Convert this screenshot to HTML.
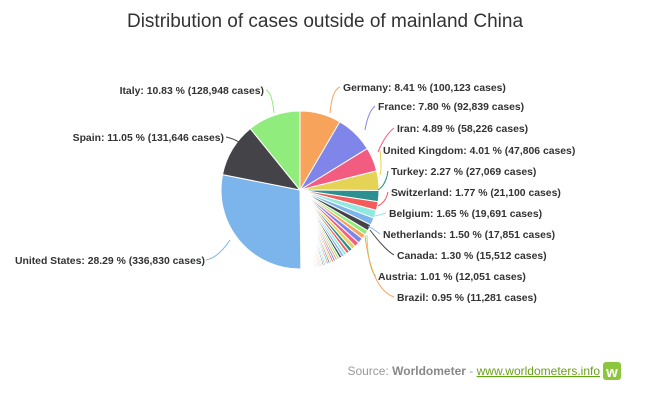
<!DOCTYPE html>
<html><head><meta charset="utf-8"><style>
body{margin:0;background:#fff;width:650px;height:402px;overflow:hidden}
svg{display:block}
text{font-family:"Liberation Sans",sans-serif}
.l{font-size:10.4px;font-weight:bold;fill:#333}
</style></head><body>
<svg id="s" width="650" height="402" xmlns="http://www.w3.org/2000/svg">
<text x="325" y="27" text-anchor="middle" style="font-size:19px;fill:#333">Distribution of cases outside of mainland China</text>
<g id="pie"></g>
<g fill="none" stroke-width="1">
<path d="M266,90 Q272,92 274,113" stroke="#90ed7d"/>
<path d="M340,87 Q332,90 330,113" stroke="#f7a35c"/>
<path d="M375,106 Q368,112 365,130" stroke="#8085e9"/>
<path d="M394,128 Q385,135 378,152" stroke="#f15c80"/>
<path d="M380,150 Q382,170 380,175" stroke="#e4d354"/>
<path d="M388,171 Q386,185 378,190" stroke="#2b908f"/>
<path d="M388,192 Q386,202 378,206" stroke="#f45b5b"/>
<path d="M386,213 Q380,215 374,216" stroke="#91e8e1"/>
<path d="M380,234 Q375,230 368,226" stroke="#7cb5ec"/>
<path d="M394,255 Q385,250 370,230" stroke="#434348"/>
<path d="M376,276 Q368,270 367,235" stroke="#90ed7d"/>
<path d="M394,297 Q372,290 365,236" stroke="#f7a35c"/>
<path d="M226,137 Q240,140 248,150" stroke="#434348"/>
<path d="M206,260 Q218,258 230,240" stroke="#7cb5ec"/>
</g>
<text class="l" x="264" y="94" text-anchor="end">Italy: 10.83 % (128,948 cases)</text>
<text class="l" x="343" y="91">Germany: 8.41 % (100,123 cases)</text>
<text class="l" x="378" y="110">France: 7.80 % (92,839 cases)</text>
<text class="l" x="397" y="132">Iran: 4.89 % (58,226 cases)</text>
<text class="l" x="383" y="154">United Kingdom: 4.01 % (47,806 cases)</text>
<text class="l" x="391" y="175">Turkey: 2.27 % (27,069 cases)</text>
<text class="l" x="391" y="196">Switzerland: 1.77 % (21,100 cases)</text>
<text class="l" x="389" y="217">Belgium: 1.65 % (19,691 cases)</text>
<text class="l" x="383" y="238">Netherlands: 1.50 % (17,851 cases)</text>
<text class="l" x="397" y="259">Canada: 1.30 % (15,512 cases)</text>
<text class="l" x="378" y="280">Austria: 1.01 % (12,051 cases)</text>
<text class="l" x="397" y="301">Brazil: 0.95 % (11,281 cases)</text>
<text class="l" x="224" y="141" text-anchor="end">Spain: 11.05 % (131,646 cases)</text>
<text class="l" x="205" y="264" text-anchor="end">United States: 28.29 % (336,830 cases)</text>
<text x="600" y="375" text-anchor="end" style="font-size:12px;fill:#999">Source: <tspan font-weight="bold" fill="#888">Worldometer</tspan> - <tspan fill="#6a9f1a" text-decoration="underline">www.worldometers.info</tspan></text>
<rect x="603" y="362" width="18" height="18" rx="3" fill="#8cc63f"/>
<text x="612" y="377" text-anchor="middle" style="font-size:15px;font-weight:bold;fill:#fff">w</text>
</svg>
<script>
var cols=["#7cb5ec","#434348","#90ed7d","#f7a35c","#8085e9","#f15c80","#e4d354","#2b908f","#f45b5b","#91e8e1"];
var named=[[8.41,3],[7.80,4],[4.89,5],[4.01,6],[2.27,7],[1.77,8],[1.65,9],[1.50,0],[1.30,1],[1.01,2],[0.95,3]];
var rest=14.27,n=40,w=[],tot=0;for(var i=0;i<n;i++){w.push(1/(i+6));tot+=1/(i+6);}
var data=named.slice();for(i=0;i<n;i++)data.push([w[i]/tot*rest,(4+i)%10]);
data.push([28.29,0],[11.05,1],[10.83,2]);
var cx=300,cy=190,r=79,a=0,g=document.getElementById("pie"),h="";
data.forEach(function(d){var a2=a+d[0]/100*2*Math.PI;
var x1=cx+r*Math.sin(a),y1=cy-r*Math.cos(a),x2=cx+r*Math.sin(a2),y2=cy-r*Math.cos(a2);
h+='<path d="M'+cx+','+cy+'L'+x1.toFixed(2)+','+y1.toFixed(2)+'A'+r+','+r+' 0 '+((a2-a)>Math.PI?1:0)+' 1 '+x2.toFixed(2)+','+y2.toFixed(2)+'Z" fill="'+cols[d[1]]+'" stroke="#fff" stroke-width="1" stroke-linejoin="round"/>';a=a2;});
g.innerHTML=h;
</script>
</body></html>
